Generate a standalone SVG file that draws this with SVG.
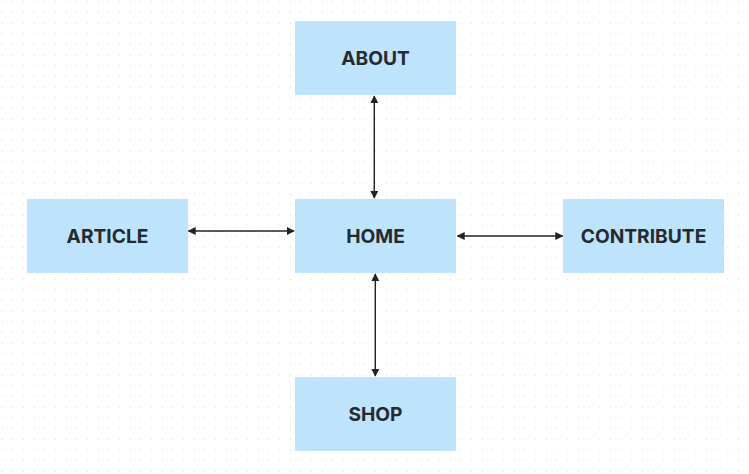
<svg xmlns="http://www.w3.org/2000/svg" width="749" height="474" viewBox="0 0 749 474">
<style>
.box{fill:#bee3fd;}
.lbl{font-family:Inter,"Liberation Sans",sans-serif;font-weight:700;font-size:19.2px;fill:#262a2f;text-anchor:middle;dominant-baseline:central;}
.conn{stroke:#222;stroke-width:1.4;fill:none;marker-start:url(#ah);marker-end:url(#ah);}
</style>
<defs>
<pattern id="dots" x="1.8" y="1.4" width="10.67" height="10.67" patternUnits="userSpaceOnUse">
<rect x="0" y="0" width="1.1" height="1.1" fill="#d6d6d6"/>
</pattern>
<marker id="ah" viewBox="0 0 10 10" refX="9" refY="5" markerWidth="8" markerHeight="8" markerUnits="userSpaceOnUse" orient="auto-start-reverse">
<path d="M0,0 L10,5 L0,10 z" fill="#222"/>
</marker>
</defs>
<rect width="749" height="474" fill="#ffffff"/>
<rect width="749" height="474" fill="url(#dots)"/>
<g id="connectors">
<line class="conn" x1="374.3" y1="96" x2="374.3" y2="198"/>
<line class="conn" x1="188.5" y1="231" x2="294" y2="231"/>
<line class="conn" x1="457.5" y1="236" x2="562.5" y2="236"/>
<line class="conn" x1="375.3" y1="274" x2="375.3" y2="376"/>
</g>
<g id="about"><rect class="box" x="295" y="21" width="161" height="74"/><text class="lbl" x="375.5" y="58">ABOUT</text></g>
<g id="home"><rect class="box" x="295" y="199" width="161" height="74"/><text class="lbl" x="375.5" y="236">HOME</text></g>
<g id="article"><rect class="box" x="27" y="199" width="161" height="74"/><text class="lbl" x="107.5" y="236">ARTICLE</text></g>
<g id="contribute"><rect class="box" x="563" y="199" width="161" height="74"/><text class="lbl" x="643.5" y="236">CONTRIBUTE</text></g>
<g id="shop"><rect class="box" x="295" y="377" width="161" height="74"/><text class="lbl" x="375.5" y="414">SHOP</text></g>
</svg>
